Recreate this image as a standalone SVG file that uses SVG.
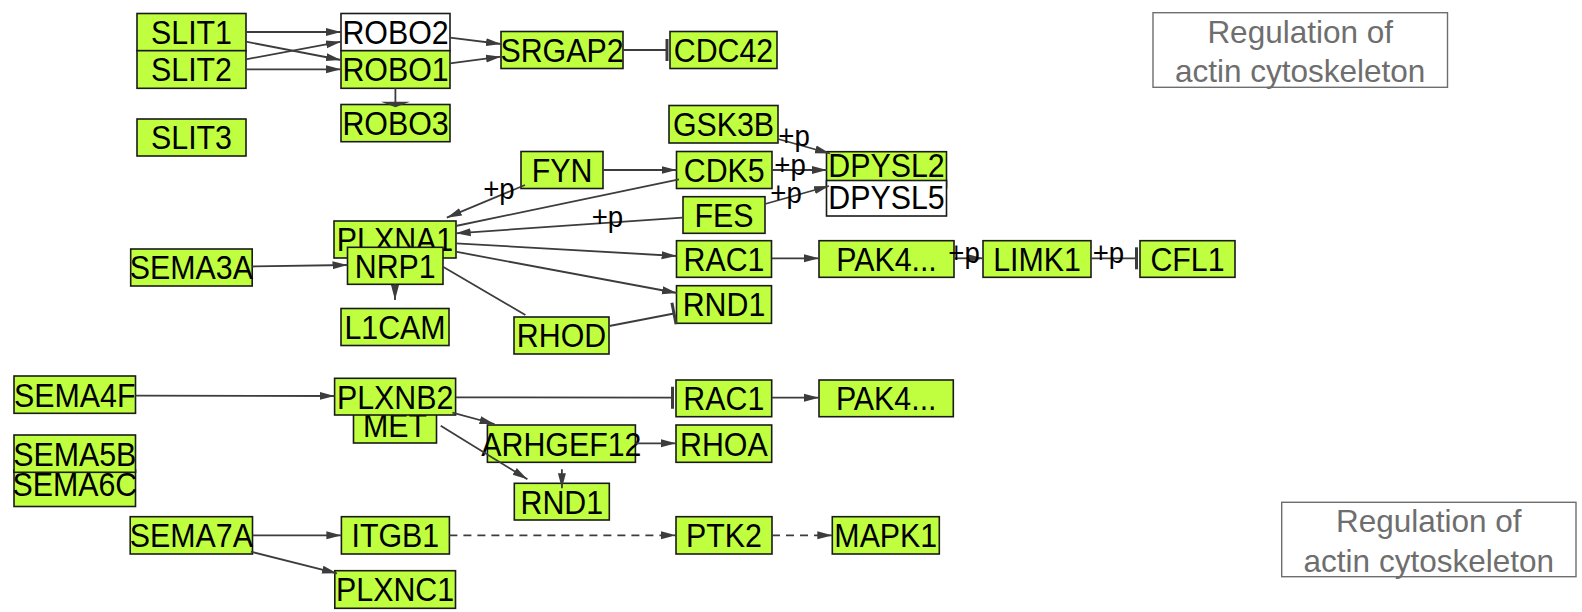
<svg xmlns="http://www.w3.org/2000/svg" width="1582" height="612" viewBox="0 0 1582 612">
<defs>
<style>
.n rect{fill:#bfff3f;stroke:#1a1a1a;stroke-width:1.6}
.n.w rect{fill:#ffffff}
.n text,.p{font-family:"Liberation Sans",Arial,sans-serif;fill:#000;text-anchor:middle;transform-box:fill-box;transform-origin:center;transform:scaleX(0.92)}
.n text{font-size:33px}
.p{font-size:30px}
.e line,.e path{stroke:#3c3c3c;stroke-width:1.8;fill:none}
.e .d{stroke-dasharray:8 6}
.r rect{fill:#fff;stroke:#6e6e6e;stroke-width:1.4}
.r text{font-family:"Liberation Sans",Arial,sans-serif;font-size:31.5px;fill:#6e6e6e;text-anchor:middle}
</style>
<marker id="arr" markerWidth="15" markerHeight="10" refX="15" refY="5" orient="auto" markerUnits="userSpaceOnUse"><path d="M0,1 L15,5 L0,9 z" fill="#3c3c3c"/></marker>
<marker id="bar" markerWidth="5" markerHeight="24" refX="2.5" refY="12" orient="auto" markerUnits="userSpaceOnUse"><path d="M2.5,1 V23" stroke="#3c3c3c" stroke-width="3"/></marker>
</defs>
<rect width="1582" height="612" fill="#fff"/>

<g id="SLIT1" class="n"><rect x="137" y="13.5" width="109" height="37.2"/><text x="191.5" y="44.1">SLIT1</text></g>
<g id="SLIT2" class="n"><rect x="137" y="50.7" width="109" height="37.6"/><text x="191.5" y="81.5">SLIT2</text></g>
<g id="SLIT3" class="n"><rect x="137" y="119" width="109" height="37"/><text x="191.5" y="149.5">SLIT3</text></g>
<g id="ROBO2" class="n w"><rect x="341" y="13.5" width="109" height="37.2"/><text x="395.5" y="44.1">ROBO2</text></g>
<g id="ROBO1" class="n"><rect x="341" y="50.7" width="109" height="37.6"/><text x="395.5" y="81.5">ROBO1</text></g>
<g id="ROBO3" class="n"><rect x="341" y="104.5" width="109" height="37.2"/><text x="395.5" y="135.1">ROBO3</text></g>
<g id="SRGAP2" class="n"><rect x="501" y="31.5" width="122" height="37"/><text x="562" y="62">SRGAP2</text></g>
<g id="CDC42" class="n"><rect x="670" y="31.5" width="107" height="37"/><text x="723.5" y="62">CDC42</text></g>
<g id="GSK3B" class="n"><rect x="669" y="105.5" width="109" height="37.5"/><text x="723.5" y="136.2">GSK3B</text></g>
<g id="FYN" class="n"><rect x="521" y="151.5" width="82" height="37"/><text x="562" y="182">FYN</text></g>
<g id="CDK5" class="n"><rect x="676.5" y="151.5" width="95.5" height="37"/><text x="724.2" y="182">CDK5</text></g>
<g id="DPYSL2" class="n"><rect x="826.5" y="151.7" width="120" height="36"/><text x="886.5" y="177.5">DPYSL2</text></g>
<g id="DPYSL5" class="n w"><rect x="826.5" y="180.5" width="120" height="35.5"/><text x="886.5" y="209">DPYSL5</text></g>
<g id="FES" class="n"><rect x="683" y="196.7" width="82" height="36.6"/><text x="724" y="227">FES</text></g>
<g id="PLXNA1" class="n"><rect x="334" y="221" width="122" height="37"/><text x="395" y="251.5">PLXNA1</text></g>
<g id="NRP1" class="n"><rect x="347.5" y="247.3" width="95.5" height="37"/><text x="395.2" y="277.8">NRP1</text></g>
<g id="SEMA3A" class="n"><rect x="130.7" y="249" width="121.5" height="37"/><text x="191.4" y="279.5">SEMA3A</text></g>
<g id="L1CAM" class="n"><rect x="341" y="308.5" width="108" height="37"/><text x="395" y="339">L1CAM</text></g>
<g id="RHOD" class="n"><rect x="514" y="317" width="95" height="37"/><text x="561.5" y="347.5">RHOD</text></g>
<g id="RAC1_a" class="n"><rect x="676.5" y="240.7" width="95" height="36.6"/><text x="724" y="271">RAC1</text></g>
<g id="RND1_a" class="n"><rect x="676.5" y="285.7" width="95" height="37.6"/><text x="724" y="316.5">RND1</text></g>
<g id="PAK4_a" class="n"><rect x="819" y="240.7" width="135" height="36.6"/><text x="886.5" y="271">PAK4...</text></g>
<g id="LIMK1" class="n"><rect x="983" y="240.7" width="108" height="36.6"/><text x="1037" y="271">LIMK1</text></g>
<g id="CFL1" class="n"><rect x="1140" y="240.7" width="95" height="36.6"/><text x="1187.5" y="271">CFL1</text></g>
<g id="SEMA4F" class="n"><rect x="14" y="376" width="121.5" height="37.3"/><text x="74.8" y="406.6">SEMA4F</text></g>
<g id="SEMA6C" class="n"><rect x="14" y="470" width="121.5" height="36.5"/><text x="74.8" y="496">SEMA6C</text></g>
<g id="SEMA5B" class="n"><rect x="14" y="435" width="121.5" height="37.3"/><text x="74.8" y="465.6">SEMA5B</text></g>
<g id="MET" class="n"><rect x="353.5" y="406" width="83" height="37"/><text x="395" y="437">MET</text></g>
<g id="PLXNB2" class="n"><rect x="334.6" y="378.3" width="121" height="36.7"/><text x="395.1" y="408.6">PLXNB2</text></g>
<g id="ARHGEF12" class="n"><rect x="487.4" y="425" width="148" height="37.3"/><text x="561.4" y="455.6">ARHGEF12</text></g>
<g id="RND1_b" class="n"><rect x="514.3" y="483.3" width="95" height="36.7"/><text x="561.8" y="513.6">RND1</text></g>
<g id="RAC1_b" class="n"><rect x="676" y="380" width="95.7" height="36.7"/><text x="723.8" y="410.3">RAC1</text></g>
<g id="PAK4_b" class="n"><rect x="819" y="380" width="134.3" height="36.7"/><text x="886.2" y="410.3">PAK4...</text></g>
<g id="RHOA" class="n"><rect x="676" y="425" width="95.7" height="37.3"/><text x="723.8" y="455.6">RHOA</text></g>
<g id="SEMA7A" class="n"><rect x="130.2" y="516.7" width="122.3" height="37.3"/><text x="191.3" y="547.3">SEMA7A</text></g>
<g id="ITGB1" class="n"><rect x="341.4" y="516.7" width="108" height="37.3"/><text x="395.4" y="547.3">ITGB1</text></g>
<g id="PTK2" class="n"><rect x="676" y="516.7" width="96" height="37.3"/><text x="724" y="547.3">PTK2</text></g>
<g id="MAPK1" class="n"><rect x="832.3" y="516.7" width="107" height="37.3"/><text x="885.8" y="547.3">MAPK1</text></g>
<g id="PLXNC1" class="n"><rect x="334.8" y="570.7" width="120.7" height="37.6"/><text x="395.1" y="601.5">PLXNC1</text></g>

<g id="reg1" class="r"><rect x="1153" y="12.7" width="294.5" height="74.6"/><text x="1300.2" y="42.7">Regulation of</text><text x="1300.2" y="81.7">actin cytoskeleton</text></g>
<g id="reg2" class="r"><rect x="1281.7" y="502.3" width="294.3" height="74.4"/><text x="1428.8" y="532">Regulation of</text><text x="1428.8" y="571.5">actin cytoskeleton</text></g>

<g id="connectors" class="e">
<line x1="246" y1="32" x2="341" y2="32" marker-end="url(#arr)"/>
<line x1="246" y1="41.7" x2="341" y2="60" marker-end="url(#arr)"/>
<line x1="246" y1="59.3" x2="341" y2="41.7" marker-end="url(#arr)"/>
<line x1="246" y1="69.3" x2="341" y2="69.3" marker-end="url(#arr)"/>
<line x1="450" y1="37.7" x2="501" y2="44" marker-end="url(#arr)"/>
<line x1="450" y1="63.3" x2="501" y2="56.7" marker-end="url(#arr)"/>
<line x1="623" y1="50" x2="667" y2="50" marker-end="url(#bar)"/>
<line x1="395.4" y1="88.3" x2="395.4" y2="102"/>
<polygon points="381,101.7 410,101.7 395.4,107.3" fill="#3c3c3c"/>
<line x1="778" y1="139" x2="830" y2="153.5" marker-end="url(#arr)"/>
<line x1="772" y1="170" x2="827" y2="170" marker-end="url(#arr)"/>
<line x1="765" y1="204" x2="829" y2="186" marker-end="url(#arr)"/>
<line x1="603" y1="170" x2="676.5" y2="170" marker-end="url(#arr)"/>
<line x1="525" y1="185" x2="446.8" y2="217.7" marker-end="url(#arr)"/>
<line x1="679" y1="179.3" x2="455.7" y2="226"/>
<line x1="682.5" y1="217.7" x2="455.7" y2="233.3" marker-end="url(#arr)"/>
<line x1="455.7" y1="243.3" x2="676.6" y2="256" marker-end="url(#arr)"/>
<line x1="455.7" y1="251.7" x2="677" y2="293" marker-end="url(#arr)"/>
<line x1="443" y1="266.7" x2="525.4" y2="315"/>
<line x1="609.3" y1="326" x2="674" y2="313.5" marker-end="url(#bar)"/>
<line x1="252" y1="266.5" x2="347.5" y2="265" marker-end="url(#arr)"/>
<line x1="395" y1="284.3" x2="395" y2="300" marker-end="url(#arr)"/>
<line x1="135.5" y1="395.7" x2="334.6" y2="396" marker-end="url(#arr)"/>
<line x1="455.8" y1="397.3" x2="672.5" y2="397.7" marker-end="url(#bar)"/>
<line x1="452.4" y1="412.7" x2="494.5" y2="424" marker-end="url(#arr)"/>
<line x1="440.7" y1="425.7" x2="527.4" y2="479.3" marker-end="url(#arr)"/>
<line x1="561.9" y1="469.3" x2="561.9" y2="488.3" marker-end="url(#arr)"/>
<line x1="635.5" y1="443.3" x2="676" y2="443.3" marker-end="url(#arr)"/>
<line x1="771.7" y1="397.7" x2="819" y2="397.7" marker-end="url(#arr)"/>
<line x1="771.7" y1="258.3" x2="819" y2="258.3" marker-end="url(#arr)"/>
<line x1="954" y1="258.3" x2="983" y2="258.3" marker-end="url(#arr)"/>
<line x1="1091" y1="258.3" x2="1136.5" y2="258.3" marker-end="url(#bar)"/>
<line x1="252.5" y1="535.3" x2="341.4" y2="535.3" marker-end="url(#arr)"/>
<line x1="250.9" y1="551.7" x2="337" y2="573.3" marker-end="url(#arr)"/>
<line class="d" x1="449.4" y1="535.3" x2="676" y2="535.3" marker-end="url(#arr)"/>
<line class="d" x1="772" y1="535.3" x2="832.3" y2="535.3" marker-end="url(#arr)"/>
<text class="p" x="794" y="146">+p</text>
<text class="p" x="790" y="175">+p</text>
<text class="p" x="786" y="203">+p</text>
<text class="p" x="499" y="199.5">+p</text>
<text class="p" x="607.5" y="227.5">+p</text>
<text class="p" x="964" y="263">+p</text>
<text class="p" x="1108.5" y="263">+p</text>
</g>
</svg>
